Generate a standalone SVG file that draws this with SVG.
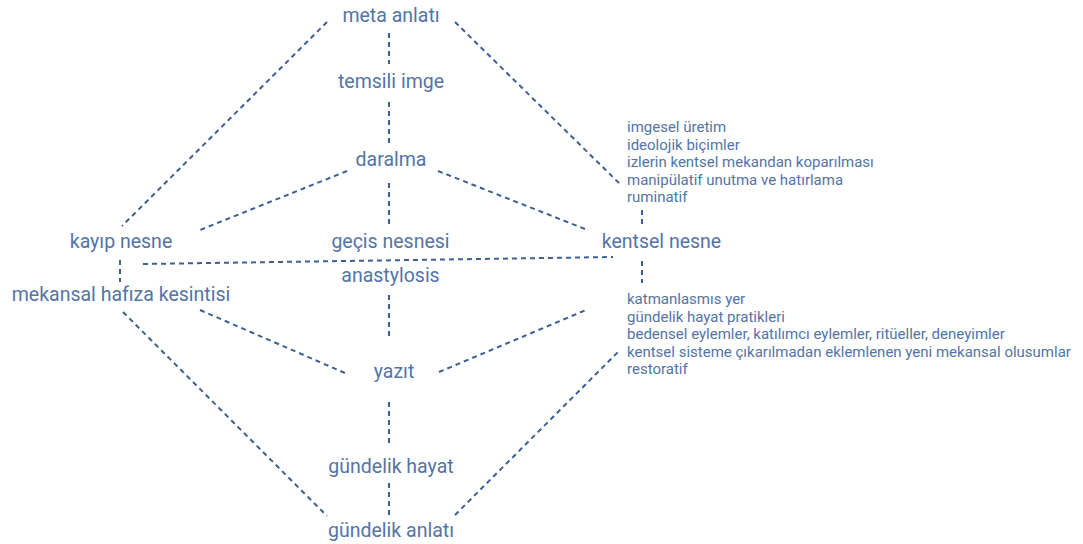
<svg xmlns="http://www.w3.org/2000/svg" width="1083" height="544" viewBox="0 0 1083 544">
<style>
.n{font-family:Roboto,"Liberation Sans",sans-serif;font-size:19.5px;fill:#5374a6;text-anchor:middle}
.l{font-family:Roboto,"Liberation Sans",sans-serif;font-size:15px;fill:#5374a6}
.c line{stroke:#3e5f92;stroke-width:2;stroke-dasharray:5 4;fill:none}
</style>
<rect width="1083" height="544" fill="#ffffff"/>
<g id="connectors" class="c">
<line x1="327" y1="22" x2="122" y2="226"/>
<line x1="455" y1="22" x2="622" y2="186"/>
<line x1="389" y1="33" x2="389" y2="64"/>
<line x1="389" y1="102" x2="389" y2="144"/>
<line x1="347" y1="171" x2="200" y2="230"/>
<line x1="438" y1="171" x2="585" y2="229"/>
<line x1="389" y1="183" x2="389" y2="226"/>
<line x1="143" y1="264" x2="613" y2="257"/>
<line x1="120" y1="260" x2="120" y2="282"/>
<line x1="642" y1="210" x2="642" y2="226"/>
<line x1="642" y1="261" x2="642" y2="283"/>
<line x1="389" y1="295" x2="389" y2="336"/>
<line x1="200" y1="310" x2="345" y2="373"/>
<line x1="439" y1="372" x2="586" y2="310"/>
<line x1="123" y1="312" x2="327" y2="516"/>
<line x1="455" y1="515" x2="620" y2="350"/>
<line x1="389" y1="402" x2="389" y2="443"/>
<line x1="389" y1="483" x2="389" y2="517"/>
</g>
<g id="meta-anlati"><text class="n" x="391" y="22">meta anlatı</text></g>
<g id="temsili-imge"><text class="n" x="391" y="88">temsili imge</text></g>
<g id="daralma"><text class="n" x="391" y="166">daralma</text></g>
<g id="kayip-nesne"><text class="n" x="121" y="248">kayıp nesne</text></g>
<g id="gecis-nesnesi"><text class="n" x="390.5" y="248">geçis nesnesi</text></g>
<g id="kentsel-nesne"><text class="n" x="661.5" y="248">kentsel nesne</text></g>
<g id="anastylosis"><text class="n" x="390.5" y="282">anastylosis</text></g>
<g id="mekansal-hafiza-kesintisi"><text class="n" x="121" y="301">mekansal hafıza kesintisi</text></g>
<g id="yazit"><text class="n" x="394" y="378">yazıt</text></g>
<g id="gundelik-hayat"><text class="n" x="391" y="473">gündelik hayat</text></g>
<g id="gundelik-anlati"><text class="n" x="391" y="537">gündelik anlatı</text></g>
<g id="list-top">
<text class="l" x="627" y="132">imgesel üretim</text>
<text class="l" x="627" y="149.5">ideolojik biçimler</text>
<text class="l" x="627" y="167">izlerin kentsel mekandan koparılması</text>
<text class="l" x="627" y="184.5">manipülatif unutma ve hatırlama</text>
<text class="l" x="627" y="202">ruminatif</text>
</g>
<g id="list-bottom">
<text class="l" x="627" y="304">katmanlasmıs yer</text>
<text class="l" x="627" y="321.5">gündelik hayat pratikleri</text>
<text class="l" x="627" y="339">bedensel eylemler, katılımcı eylemler, ritüeller, deneyimler</text>
<text class="l" x="627" y="356.5">kentsel sisteme çıkarılmadan eklemlenen yeni mekansal olusumlar</text>
<text class="l" x="627" y="374">restoratif</text>
</g>
</svg>
